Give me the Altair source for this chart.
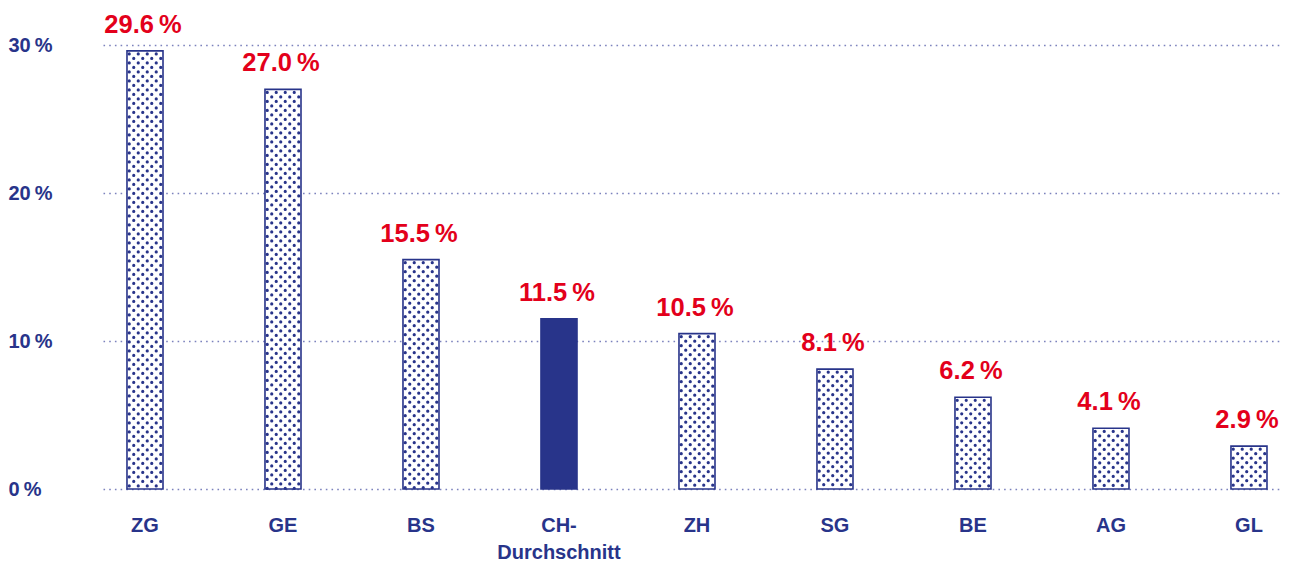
import altair as alt
import pandas as pd

categories = ["ZG", "GE", "BS", "CH-Durchschnitt", "ZH", "SG", "BE", "AG", "GL"]
values = [29.6, 27.0, 15.5, 11.5, 10.5, 8.1, 6.2, 4.1, 2.9]
kinds = ["Kanton", "Kanton", "Kanton", "Schnitt", "Kanton", "Kanton", "Kanton", "Kanton", "Kanton"]
y_ticks = [0, 10, 20, 30]

NAVY = "#28348a"
RED = "#e3001b"
FONT = "Liberation Sans"

df = pd.DataFrame({"cat": categories, "value": values, "kind": kinds})

x_scale = alt.Scale(domain=categories, paddingInner=0.739, paddingOuter=0.1413, align=0.615)
y_scale = alt.Scale(domain=[0, 30])

x_enc = alt.X(
    "cat:N",
    scale=x_scale,
    sort=categories,
    axis=alt.Axis(
        title=None, domain=False, ticks=False, labelAngle=0,
        labelFont=FONT, labelFontSize=20, labelFontWeight="bold", labelColor=NAVY,
        labelPadding=26, labelLineHeight=27,
        labelExpr="datum.value == 'CH-Durchschnitt' ? ['CH-', 'Durchschnitt'] : datum.label",
    ),
)
y_enc = alt.Y(
    "value:Q",
    scale=y_scale,
    axis=alt.Axis(
        title=None, domain=False, ticks=False, values=y_ticks,
        labelFont=FONT, labelFontSize=20, labelFontWeight="bold", labelColor=NAVY,
        labelAlign="left", labelPadding=95, labelBaseline="middle",
        labelExpr="datum.value + '\u2009%'",
        grid=True, gridColor="#7c82bd", gridDash=[1.6, 4.1], gridWidth=1.6,
    ),
)

base = alt.Chart(df)

bars = base.mark_bar(stroke=NAVY, strokeWidth=1.6).encode(
    x=x_enc,
    y=y_enc,
    fill=alt.Fill("kind:N", scale=alt.Scale(domain=["Kanton", "Schnitt"], range=["white", NAVY]), legend=None),
)

offsets = [-15.75, -11.25, -6.75, -2.25, 2.25, 6.75, 11.25, 15.75]
dot_layers = []
for i, off in enumerate(offsets):
    dot_layers.append(
        base.transform_filter(alt.datum.kind == "Kanton")
        .mark_rule(
            xOffset=off, color=NAVY, strokeWidth=3.2, strokeCap="round",
            strokeDash=[0.1, 8.9], strokeDashOffset=(6 if i % 2 == 0 else 1.5),
        )
        .encode(x=alt.X("cat:N", scale=x_scale, sort=categories), y=alt.Y("value:Q", scale=y_scale), y2=alt.datum(0))
    )

labels = base.transform_calculate(
    txt="format(datum.value, '.1f') + '\u2009%'"
).mark_text(
    font=FONT, fontSize=25.5, fontWeight="bold", color=RED, baseline="alphabetic", dy=-18, dx=-2
).encode(
    x=alt.X("cat:N", scale=x_scale, sort=categories),
    y=alt.Y("value:Q", scale=y_scale),
    text="txt:N",
)

chart = alt.layer(bars, *dot_layers, labels).properties(
    width=1179, height=444,
    autosize=alt.AutoSizeParams(type="none"),
    padding={"left": 95, "top": 37, "right": 0, "bottom": 74},
).configure_view(stroke=None)

chart.save("out.html", embed_options={"renderer": "svg", "actions": False})
